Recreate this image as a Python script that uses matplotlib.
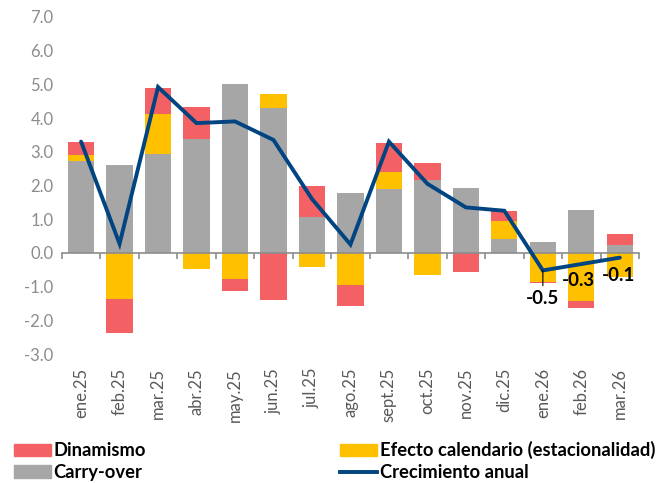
import matplotlib
matplotlib.use("Agg")
import matplotlib.pyplot as plt
from matplotlib.patches import Patch
from matplotlib.lines import Line2D
import numpy as np

plt.rcParams['font.family'] = ['Lato', 'DejaVu Sans']

months = ["ene.25", "feb.25", "mar.25", "abr.25", "may.25", "jun.25", "jul.25",
          "ago.25", "sept.25", "oct.25", "nov.25", "dic.25", "ene.26", "feb.26", "mar.26"]
carry_over = [2.73, 2.61, 2.94, 3.38, 5.02, 4.30, 1.07, 1.79, 1.90, 2.17, 1.92, 0.42, 0.31, 1.26, 0.24]
efecto_cal = [0.18, -1.36, 1.18, -0.48, -0.76, 0.42, -0.43, -0.95, 0.51, -0.66, 0.0, 0.54, -0.85, -1.42, -0.72]
dinamismo = [0.38, -1.01, 0.78, 0.95, -0.37, -1.39, 0.92, -0.62, 0.86, 0.50, -0.58, 0.29, -0.03, -0.22, 0.32]
crecimiento = [3.30, 0.27, 4.92, 3.85, 3.90, 3.35, 1.60, 0.25, 3.30, 2.05, 1.35, 1.25, -0.52, -0.33, -0.14]
labelled = [12, 13, 14]  # puntos con etiqueta

c_red = "#F46165"
c_yel = "#FFC000"
c_grey = "#A6A6A6"
c_navy = "#004481"

x = np.arange(len(months))
grey = np.array(carry_over)
yel = np.array(efecto_cal)
red = np.array(dinamismo)

fig = plt.figure(figsize=(6.65, 4.83), dpi=100)
ax = fig.add_axes([0.093, 0.267, 0.868, 0.698])

w = 0.68
# parte positiva: gris, amarillo, rojo
ax.bar(x, grey, w, color=c_grey, zorder=2)
yel_pos = np.clip(yel, 0, None)
red_pos = np.clip(red, 0, None)
ax.bar(x, yel_pos, w, bottom=grey, color=c_yel, zorder=2)
ax.bar(x, red_pos, w, bottom=grey + yel_pos, color=c_red, zorder=2)
# parte negativa: amarillo junto al cero, rojo debajo
yel_neg = np.clip(yel, None, 0)
red_neg = np.clip(red, None, 0)
ax.bar(x, yel_neg, w, color=c_yel, zorder=2)
ax.bar(x, red_neg, w, bottom=yel_neg, color=c_red, zorder=2)

ax.plot(x, crecimiento, color=c_navy, lw=2.8, solid_capstyle="round",
        solid_joinstyle="miter", zorder=4)

offsets = {12: (0, -14), 13: (-2, -6), 14: (-1, -7)}
for i in labelled:
    dx, dy = offsets[i]
    arrow = dict(arrowstyle="-", lw=0.8, color="black", shrinkA=1, shrinkB=0) if i == 12 else None
    ax.annotate(f"{crecimiento[i]:.1f}", (x[i], crecimiento[i]), xytext=(dx, dy),
                textcoords="offset points", ha="center", va="top",
                fontsize=13.5, fontweight="bold", color="black", zorder=5,
                arrowprops=arrow)

ax.set_ylim(-3, 7)
ax.set_xlim(-0.5, len(months) - 0.5)
ax.set_yticks(np.arange(-3, 8, 1))
ax.yaxis.set_major_formatter(matplotlib.ticker.FormatStrFormatter("%.1f"))
ax.tick_params(axis="y", length=0, labelsize=12, labelcolor="#8C8C8C", pad=6)

for s in ["top", "right", "left"]:
    ax.spines[s].set_visible(False)
ax.spines["bottom"].set_position(("data", 0))
ax.spines["bottom"].set_color("#8C8C8C")
ax.spines["bottom"].set_linewidth(1.2)
ax.spines["bottom"].set_zorder(3)
ax.set_xticks(np.arange(-0.5, len(months), 1))
ax.tick_params(axis="x", which="major", length=4, width=1.2, color="#8C8C8C",
               labelbottom=False)

sec = ax.secondary_xaxis(0)
sec.spines["bottom"].set_visible(False)
sec.set_xticks(x)
sec.set_xticklabels(months, rotation=90)
sec.tick_params(length=0, pad=10, labelsize=12, labelcolor="#595959")

handles = [Patch(color=c_red), Patch(color=c_grey), Patch(color=c_yel),
           Line2D([], [], color=c_navy, lw=2.8)]
labels = ["Dinamismo", "Carry-over", "Efecto calendario (estacionalidad)", "Crecimiento anual"]
fig.legend(handles, labels, ncol=2, loc="lower left", bbox_to_anchor=(0.021, 0.004),
           frameon=False, handlelength=2.0, handletextpad=0.15, columnspacing=10.6,
           labelspacing=0.25, borderpad=0, borderaxespad=0,
           prop={"weight": "bold", "size": 13.2})

fig.savefig("out.png", dpi=100)
